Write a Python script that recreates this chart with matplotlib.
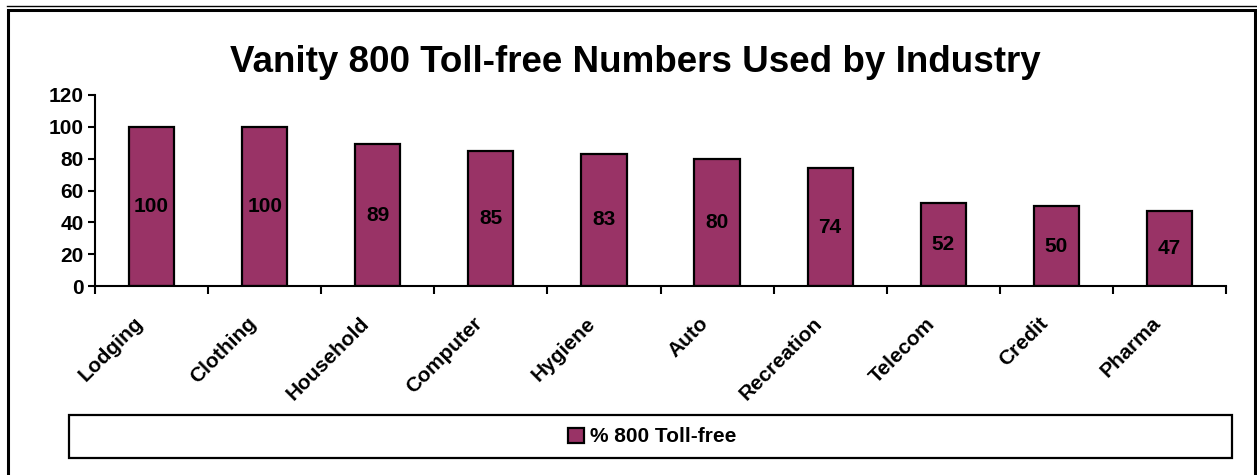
import matplotlib.pyplot as plt
from matplotlib.patches import Rectangle
from matplotlib.lines import Line2D
import matplotlib.transforms as mtransforms
import numpy as np

categories = ["Lodging", "Clothing", "Household", "Computer", "Hygiene",
              "Auto", "Recreation", "Telecom", "Credit", "Pharma"]
values = [100, 100, 89, 85, 83, 80, 74, 52, 50, 47]
y_ticks = [0, 20, 40, 60, 80, 100, 120]
series_name = "% 800 Toll-free"
title = "Vanity 800 Toll-free Numbers Used by Industry"

plt.rcParams['font.family'] = ['Liberation Sans', 'DejaVu Sans']
plt.rcParams['font.weight'] = 'bold'

W, H = 1257, 475
fig = plt.figure(figsize=(W / 100, H / 100), dpi=100)
ax = fig.add_axes([95 / W, 1 - 286 / H, (1226 - 95) / W, (286 - 95) / H])

bar_color = "#993366"
x = np.arange(len(categories)) + 0.5
ax.bar(x, values, width=0.4, color=bar_color, edgecolor="black", linewidth=1.6, zorder=2)

for xi, v in zip(x, values):
    ax.text(xi, v / 2, str(v), ha="center", va="center", fontsize=15, fontweight="bold")

ax.set_xlim(0, len(categories))
ax.set_ylim(0, 120)
ax.set_yticks(y_ticks)
ax.set_yticklabels([str(t) for t in y_ticks], fontsize=15, fontweight="bold")
ax.tick_params(axis="y", direction="out", length=5, width=1.5, pad=3)

ax.set_xticks(np.arange(len(categories) + 1))
ax.set_xticklabels([])
ax.tick_params(axis="x", which="major", direction="out", length=6, width=1.5)
ax.set_xticks(x, minor=True)
ax.set_xticklabels(categories, minor=True, rotation=45, ha="right", va="top",
                   rotation_mode="anchor", fontsize=15, fontweight="bold")
ax.tick_params(axis="x", which="minor", length=0, pad=20)
shift = mtransforms.ScaledTranslation(-18 / 100, 0, fig.dpi_scale_trans)
for lbl in ax.get_xticklabels(minor=True):
    lbl.set_transform(lbl.get_transform() + shift)

for s in ["top", "right"]:
    ax.spines[s].set_visible(False)
for s in ["left", "bottom"]:
    ax.spines[s].set_linewidth(1.5)

fig.text(635 / W, 1 - 62 / H, title, ha="center", va="center",
         fontsize=26.5, fontweight="bold")

# legend box
fig.patches.append(Rectangle((69 / W, 1 - 458 / H), (1232 - 69) / W, 43 / H,
                             transform=fig.transFigure, fill=False,
                             edgecolor="black", linewidth=1.6))
handle = Rectangle((0, 0), 1, 1, facecolor=bar_color, edgecolor="black", linewidth=1.6)
fig.legend([handle], [series_name], loc="center", bbox_to_anchor=(652 / W, 1 - 437 / H),
           frameon=False, handlelength=0.75, handleheight=0.75, handletextpad=0.3,
           prop={"size": 15, "weight": "bold"})

# outer frame
fig.patches.append(Rectangle((7.5 / W, -0.02), (1255 - 7.5) / W, 1.02 - 10 / H,
                             transform=fig.transFigure, fill=False,
                             edgecolor="black", linewidth=2.2))
fig.lines.append(Line2D([7 / W, 1], [1 - 6 / H, 1 - 6 / H], transform=fig.transFigure,
                        color="black", linewidth=1))

fig.savefig("out.png", dpi=100)
